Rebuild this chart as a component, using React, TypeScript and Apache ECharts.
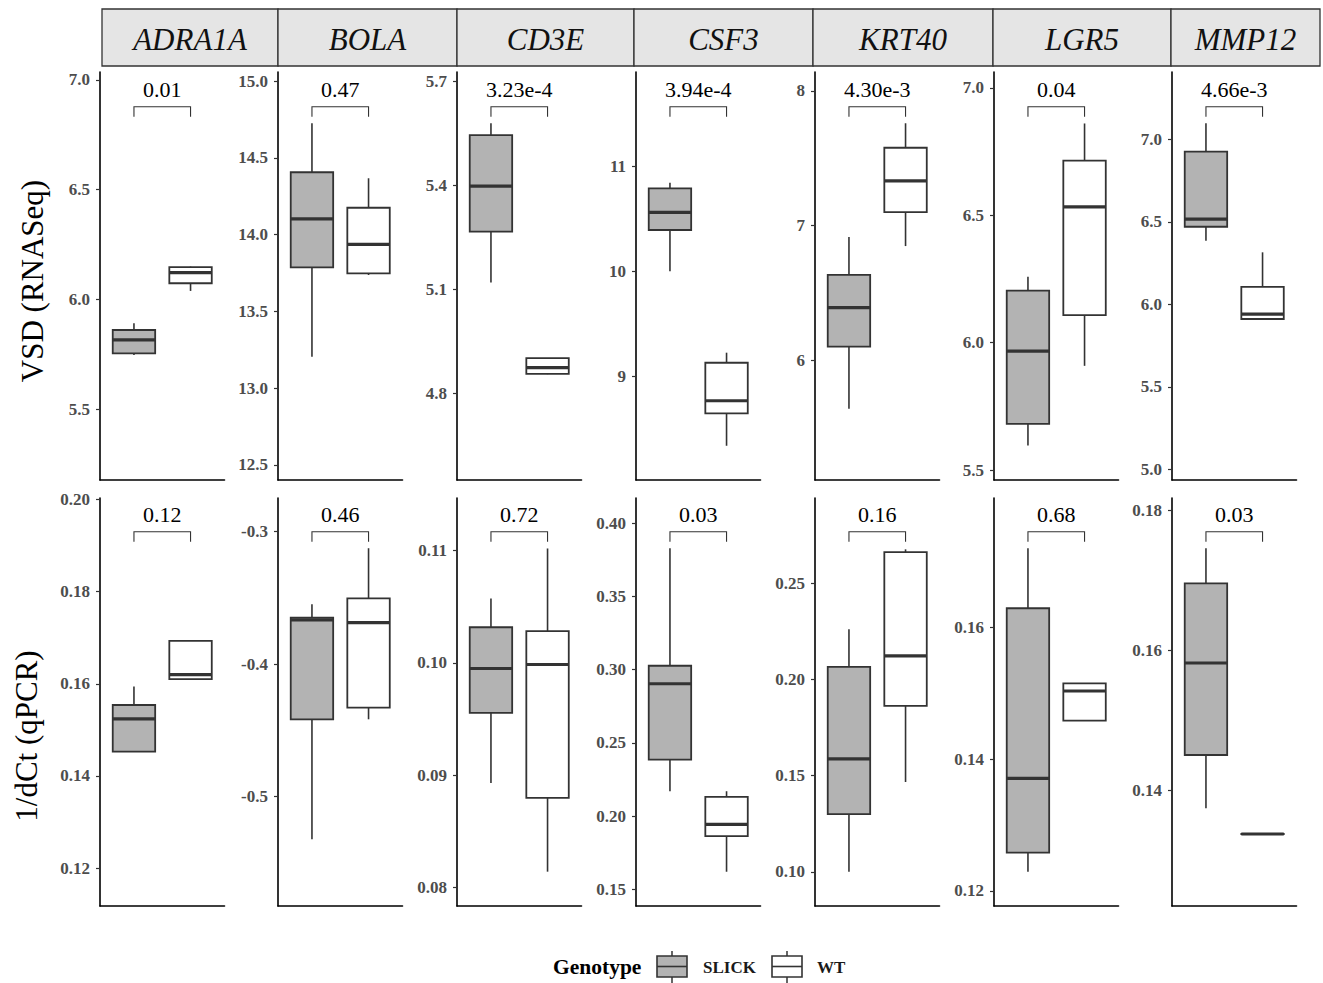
import React, { useEffect, useRef } from "react";
import * as echarts from "echarts";

// ---------- data ----------
const genes = ["ADRA1A", "BOLA", "CD3E", "CSF3", "KRT40", "LGR5", "MMP12"];
const groups = ["SLICK", "WT"];

// [lower whisker, Q1, median, Q3, upper whisker]
const rnaSlick = [
  [5.747, 5.755, 5.816, 5.861, 5.892],
  [13.205, 13.787, 14.102, 14.406, 14.725],
  [5.119, 5.266, 5.397, 5.544, 5.578],
  [10.0, 10.395, 10.564, 10.793, 10.847],
  [5.637, 6.1, 6.39, 6.633, 6.914],
  [5.596, 5.681, 5.967, 6.204, 6.259],
  [6.385, 6.47, 6.516, 6.925, 7.097],
];
const rnaWt = [
  [6.039, 6.074, 6.122, 6.147, 6.15],
  [13.737, 13.748, 13.937, 14.175, 14.367],
  [4.855, 4.856, 4.874, 4.901, 4.901],
  [8.334, 8.643, 8.764, 9.127, 9.223],
  [6.847, 7.1, 7.331, 7.578, 7.76],
  [5.909, 6.108, 6.533, 6.714, 6.86],
  [5.911, 5.911, 5.941, 6.105, 6.315],
];
const qpcrSlick = [
  [0.1453, 0.1453, 0.1524, 0.1554, 0.1594],
  [-0.5321, -0.4416, -0.3666, -0.3649, -0.3548],
  [0.0893, 0.09554, 0.0995, 0.10318, 0.10574],
  [0.217, 0.2386, 0.2904, 0.3027, 0.3829],
  [0.1, 0.13, 0.1587, 0.2066, 0.2261],
  [0.12293, 0.12582, 0.13711, 0.16295, 0.17206],
  [0.13749, 0.14509, 0.1582, 0.16955, 0.17454],
];
const qpcrWt = [
  [0.161, 0.161, 0.162, 0.1693, 0.1693],
  [-0.4416, -0.4328, -0.3687, -0.3503, -0.3125],
  [0.08139, 0.08797, 0.09986, 0.10283, 0.1102],
  [0.162, 0.1863, 0.1943, 0.2131, 0.217],
  [0.1467, 0.1863, 0.2123, 0.2663, 0.2677],
  [0.14587, 0.14587, 0.15038, 0.15155, 0.15155],
  [0.13383, 0.13383, 0.13383, 0.13383, 0.13383],
];

const rnaPValues = ["0.01", "0.47", "3.23e-4", "3.94e-4", "4.30e-3", "0.04", "4.66e-3"];
const qpcrPValues = ["0.12", "0.46", "0.72", "0.03", "0.16", "0.68", "0.03"];

// axis ranges [min, max]
const rnaRanges = [
  [5.178, 7.036],
  [12.402, 15.059],
  [4.55, 5.726],
  [8.007, 11.904],
  [5.108, 8.141],
  [5.461, 7.062],
  [4.935, 7.408],
];
const qpcrRanges = [
  [0.1118, 0.2003],
  [-0.5825, -0.2746],
  [0.07833, 0.1147],
  [0.1386, 0.4173],
  [0.0822, 0.2944],
  [0.11772, 0.1797],
  [0.12357, 0.18171],
];
const rnaTicks = [
  [5.5, 6.0, 6.5, 7.0],
  [12.5, 13.0, 13.5, 14.0, 14.5, 15.0],
  [4.8, 5.1, 5.4, 5.7],
  [9, 10, 11],
  [6, 7, 8],
  [5.5, 6.0, 6.5, 7.0],
  [5.0, 5.5, 6.0, 6.5, 7.0],
];
const rnaTickDecimals = [1, 1, 1, 0, 0, 1, 1];
const qpcrTicks = [
  [0.12, 0.14, 0.16, 0.18, 0.2],
  [-0.5, -0.4, -0.3],
  [0.08, 0.09, 0.1, 0.11],
  [0.15, 0.2, 0.25, 0.3, 0.35, 0.4],
  [0.1, 0.15, 0.2, 0.25],
  [0.12, 0.14, 0.16],
  [0.14, 0.16, 0.18],
];
const qpcrTickDecimals = [2, 1, 2, 2, 2, 2, 2];

const rowTitles = ["VSD (RNASeq)", "1/dCt (qPCR)"];

// ---------- styling / layout ----------
const SERIF = "'Liberation Serif', 'Times New Roman', serif";
const FILLS: Record<string, string> = { SLICK: "#b3b3b3", WT: "#ffffff" };
const EDGE = "#333333";
const panelLefts = [100, 278, 457, 636, 815, 994, 1172];
const PANEL_W = 124.5;
const rowTops = [72, 498];
const PANEL_H = 408;
const stripXs = [102, 278, 457, 634, 813, 993, 1171, 1320];

function boxRenderer(params: any, api: any) {
  const x = api.value(0);
  const lo = api.value(1);
  const q1 = api.value(2);
  const med = api.value(3);
  const q3 = api.value(4);
  const hi = api.value(5);
  const cx = api.coord([x, med])[0];
  const yLo = api.coord([x, lo])[1];
  const yQ1 = api.coord([x, q1])[1];
  const yMed = api.coord([x, med])[1];
  const yQ3 = api.coord([x, q3])[1];
  const yHi = api.coord([x, hi])[1];
  const w = api.size([0.75, 0])[0];
  const fill = api.visual("color");
  return {
    type: "group",
    children: [
      { type: "line", shape: { x1: cx, y1: yHi, x2: cx, y2: yQ3 }, style: { stroke: EDGE, lineWidth: 1.6 } },
      { type: "line", shape: { x1: cx, y1: yQ1, x2: cx, y2: yLo }, style: { stroke: EDGE, lineWidth: 1.6 } },
      {
        type: "rect",
        shape: { x: cx - w / 2, y: yQ3, width: w, height: Math.max(yQ1 - yQ3, 0.01) },
        style: { fill, stroke: EDGE, lineWidth: 1.8 },
      },
      {
        type: "line",
        shape: { x1: cx - w / 2, y1: yMed, x2: cx + w / 2, y2: yMed },
        style: { stroke: EDGE, lineWidth: 3.2 },
      },
    ],
  };
}

function bracketRenderer(label: string, bracketOffset: number, textOffset: number) {
  return (params: any, api: any) => {
    const cs = params.coordSys;
    const x1 = api.coord([api.value(0), api.value(2)])[0];
    const x2 = api.coord([api.value(1), api.value(2)])[0];
    const yTop = cs.y + bracketOffset;
    return {
      type: "group",
      children: [
        {
          type: "polyline",
          shape: { points: [[x1, yTop + 10], [x1, yTop], [x2, yTop], [x2, yTop + 10]] },
          style: { stroke: EDGE, lineWidth: 1.1, fill: "none" },
        },
        {
          type: "text",
          x: (x1 + x2) / 2,
          y: cs.y + textOffset,
          style: {
            text: label,
            fontSize: 22,
            fontFamily: SERIF,
            fill: "#000",
            align: "center",
            verticalAlign: "middle",
          },
        },
      ],
    };
  };
}

function buildOption() {
  const grid: any[] = [];
  const xAxis: any[] = [];
  const yAxis: any[] = [];
  const series: any[] = [];

  const rows = [
    { slick: rnaSlick, wt: rnaWt, p: rnaPValues, ranges: rnaRanges, ticks: rnaTicks, dec: rnaTickDecimals, bOff: 34.7, tOff: 17 },
    { slick: qpcrSlick, wt: qpcrWt, p: qpcrPValues, ranges: qpcrRanges, ticks: qpcrTicks, dec: qpcrTickDecimals, bOff: 33.7, tOff: 16.7 },
  ];

  rows.forEach((row, r) => {
    genes.forEach((g, c) => {
      const idx = grid.length;
      grid.push({ left: panelLefts[c], top: rowTops[r], width: PANEL_W, height: PANEL_H, containLabel: false });
      xAxis.push({
        type: "value",
        gridIndex: idx,
        min: 0.4,
        max: 2.6,
        axisLine: { show: true, onZero: false, lineStyle: { color: "#000", width: 1.6 } },
        axisTick: { show: false },
        axisLabel: { show: false },
        splitLine: { show: false },
      });
      const dec = row.dec[c];
      yAxis.push({
        type: "value",
        gridIndex: idx,
        min: row.ranges[c][0],
        max: row.ranges[c][1],
        axisLine: { show: true, onZero: false, lineStyle: { color: "#000", width: 1.6 } },
        axisTick: { show: true, length: 4, lineStyle: { color: EDGE, width: 1.2 }, customValues: row.ticks[c] },
        axisLabel: {
          show: true,
          customValues: row.ticks[c],
          formatter: (v: number) => Number(v).toFixed(dec),
          color: "#4d4d4d",
          fontWeight: "bold",
          fontSize: 17,
          fontFamily: SERIF,
          margin: 10,
          hideOverlap: false,
        },
        splitLine: { show: false },
      });
      const grpData = [row.slick[c], row.wt[c]];
      groups.forEach((name, k) => {
        series.push({
          type: "custom",
          name,
          xAxisIndex: idx,
          yAxisIndex: idx,
          renderItem: boxRenderer,
          itemStyle: { color: FILLS[name] },
          encode: { x: 0, y: [1, 2, 3, 4, 5] },
          data: [[k + 1, ...grpData[k]]],
          clip: false,
          silent: true,
        });
      });
      series.push({
        type: "custom",
        name: "p-value",
        xAxisIndex: idx,
        yAxisIndex: idx,
        renderItem: bracketRenderer(row.p[c], row.bOff, row.tOff),
        encode: { x: [0, 1], y: 2 },
        data: [[1, 2, row.ranges[c][1]]],
        clip: false,
        silent: true,
      });
    });
  });

  const graphic: any[] = [];
  genes.forEach((g, c) => {
    const x0 = stripXs[c];
    const x1 = stripXs[c + 1];
    graphic.push({
      type: "rect",
      shape: { x: x0, y: 9, width: x1 - x0, height: 57 },
      style: { fill: "#e5e5e5", stroke: EDGE, lineWidth: 1.3 },
    });
    graphic.push({
      type: "text",
      x: (x0 + x1) / 2,
      y: 39,
      style: {
        text: g,
        fontSize: 31,
        fontStyle: "italic",
        fontFamily: SERIF,
        fill: "#111111",
        align: "center",
        verticalAlign: "middle",
      },
    });
  });
  // row titles
  graphic.push({
    type: "text",
    x: 32,
    y: 281,
    rotation: Math.PI / 2,
    style: { text: rowTitles[0], fontSize: 31, fontFamily: SERIF, fill: "#000", align: "center", verticalAlign: "middle" },
  });
  graphic.push({
    type: "text",
    x: 26,
    y: 736,
    rotation: Math.PI / 2,
    style: { text: rowTitles[1], fontSize: 31, fontFamily: SERIF, fill: "#000", align: "center", verticalAlign: "middle" },
  });
  // legend
  graphic.push({
    type: "text",
    x: 553,
    y: 967,
    style: { text: "Genotype", fontSize: 21.5, fontWeight: "bold", fontFamily: SERIF, fill: "#000", align: "left", verticalAlign: "middle" },
  });
  const legendItems = [
    { name: groups[0], x: 657, tx: 703 },
    { name: groups[1], x: 772, tx: 817 },
  ];
  legendItems.forEach((it) => {
    const cx = it.x + 15;
    graphic.push({ type: "line", shape: { x1: cx, y1: 951, x2: cx, y2: 983 }, style: { stroke: EDGE, lineWidth: 1.5 } });
    graphic.push({
      type: "rect",
      shape: { x: it.x, y: 956, width: 30, height: 21 },
      style: { fill: FILLS[it.name], stroke: EDGE, lineWidth: 1.6 },
    });
    graphic.push({ type: "line", shape: { x1: it.x, y1: 966.5, x2: it.x + 30, y2: 966.5 }, style: { stroke: EDGE, lineWidth: 1.6 } });
    graphic.push({
      type: "text",
      x: it.tx,
      y: 967,
      style: { text: it.name, fontSize: 17, fontWeight: "bold", fontFamily: SERIF, fill: "#1a1a1a", align: "left", verticalAlign: "middle" },
    });
  });

  return {
    animation: false,
    backgroundColor: "#ffffff",
    grid,
    xAxis,
    yAxis,
    series,
    graphic,
  };
}

export default function App() {
  const ref = useRef<HTMLDivElement>(null);
  useEffect(() => {
    if (!ref.current) return;
    const chart = echarts.init(ref.current, undefined, { renderer: "svg" });
    chart.setOption(buildOption() as any);
    return () => chart.dispose();
  }, []);
  return (
    <div
      ref={ref}
      style={{ position: "fixed", left: 0, top: 0, width: 1323, height: 983, background: "#fff" }}
    />
  );
}
